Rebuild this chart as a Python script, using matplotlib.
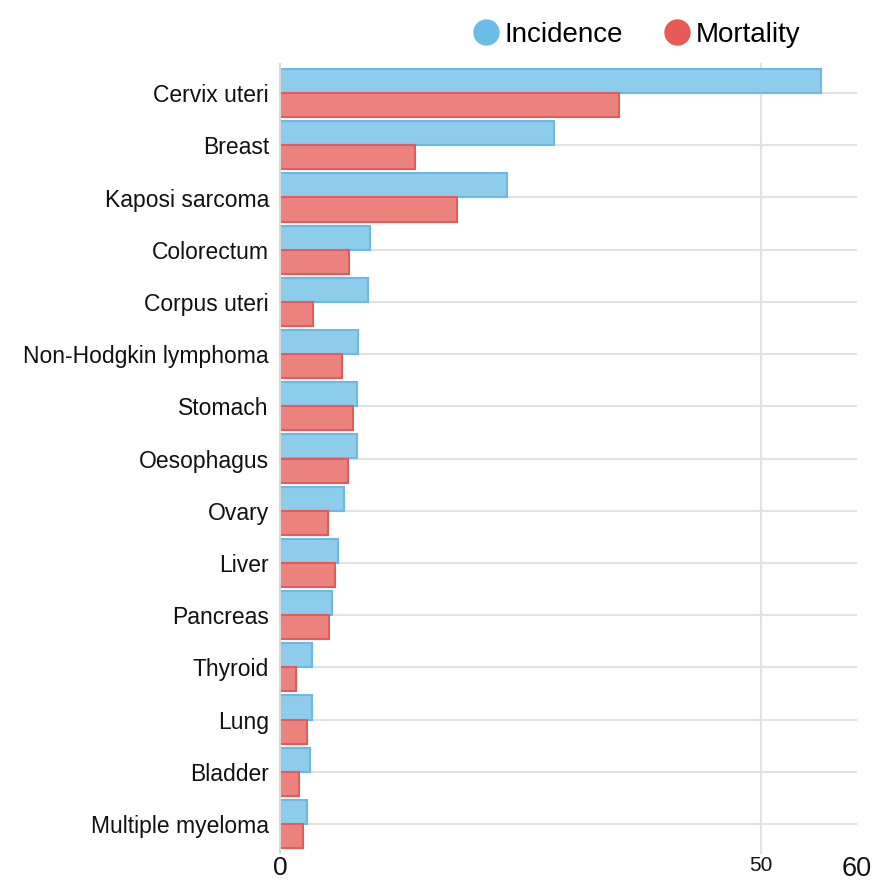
import matplotlib
matplotlib.use("Agg")
import matplotlib.pyplot as plt
from matplotlib.lines import Line2D
import numpy as np

plt.rcParams['font.family'] = ['Liberation Sans', 'DejaVu Sans']

categories = ["Cervix uteri", "Breast", "Kaposi sarcoma", "Colorectum", "Corpus uteri",
              "Non-Hodgkin lymphoma", "Stomach", "Oesophagus", "Ovary", "Liver",
              "Pancreas", "Thyroid", "Lung", "Bladder", "Multiple myeloma"]
incidence = [56.3, 28.5, 23.6, 9.4, 9.1, 8.1, 8.0, 8.0, 6.7, 6.0, 5.4, 3.3, 3.3, 3.1, 2.8]
mortality = [35.3, 14.0, 18.4, 7.2, 3.4, 6.4, 7.6, 7.1, 5.0, 5.7, 5.1, 1.7, 2.8, 2.0, 2.4]
xticks = [0, 50, 60]

fig = plt.figure(figsize=8.75 * np.array([1, 880 / 875]), dpi=100)
ax = fig.add_axes([280 / 875, 1 - 850 / 880, (857 - 280) / 875, (850 - 67) / 880])

y = np.arange(len(categories))
h = 0.46
ax.barh(y - h / 2, incidence, height=h, color="#8ECCEC", edgecolor="#6CB8E6", linewidth=1.5, zorder=3)
ax.barh(y + h / 2, mortality, height=h, color="#EC827E", edgecolor="#E65A57", linewidth=1.5, zorder=3)

ax.set_ylim(len(categories) - 0.5, -0.5)
ax.set_xlim(0, 60)
for yi in y:
    ax.axhline(yi, color="#e2e2e2", linewidth=1.5, zorder=1)
ax.plot([50, 50], [-0.55, 14.55], color="#e2e2e2", linewidth=1.5, zorder=1, clip_on=False)
ax.plot([0, 0], [-0.55, 14.55], color="#d8d8d8", linewidth=1.5, zorder=4, clip_on=False)

for s in ax.spines.values():
    s.set_visible(False)
ax.set_yticks(y)
ax.set_yticklabels(categories, fontsize=16.5, color="#111111")
ax.tick_params(axis="y", length=0, pad=8)
ax.set_xticks(xticks)
ax.set_xticklabels([str(t) for t in xticks])
ax.tick_params(axis="x", length=0, pad=4)
sizes = {0: 19, 50: 15, 60: 19.5}
for lab, t in zip(ax.get_xticklabels(), xticks):
    lab.set_fontsize(sizes[t])
    lab.set_color("#111111")
    lab.set_verticalalignment("top")

handles = [Line2D([], [], marker="o", linestyle="", markersize=18, color="#6CBCE8", label="Incidence"),
           Line2D([], [], marker="o", linestyle="", markersize=18, color="#E85A55", label="Mortality")]
fig.legend(handles=handles, loc="center", bbox_to_anchor=(636 / 875, 1 - 35 / 880), ncol=2,
           frameon=False, fontsize=20, handletextpad=0.17, columnspacing=1.45, handlelength=1.0)

fig.savefig("out.png", dpi=100)
